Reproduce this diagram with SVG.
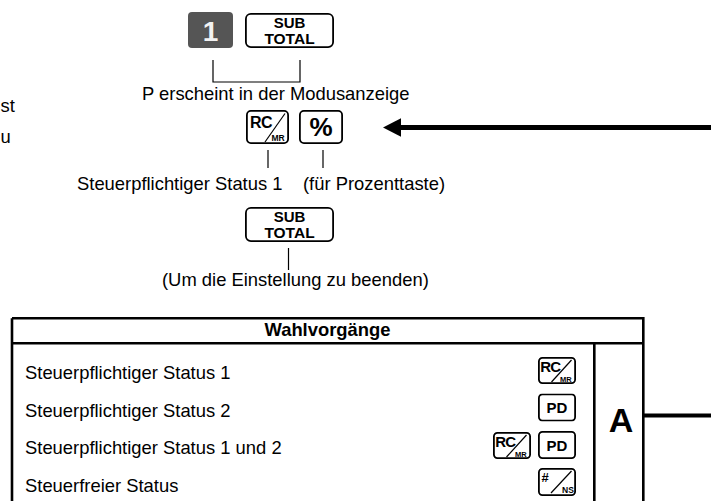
<svg xmlns="http://www.w3.org/2000/svg" width="711" height="501" viewBox="0 0 711 501">
<style>
.t{font-family:"Liberation Sans",Arial,sans-serif;font-size:18.4px;fill:#000}
.b{font-weight:bold}
.k{fill:#fff;stroke:#000;stroke-width:1.8}
.ln{stroke:#000;stroke-width:1.2;fill:none}
.tb{stroke:#000;stroke-width:2.6;fill:none}
.kt{font-family:"Liberation Sans",Arial,sans-serif;font-weight:bold;fill:#000}
</style>
<defs>
<symbol id="subtotal" viewBox="0 0 89 35">
<rect class="k" x="0.9" y="0.9" width="87.2" height="33.2" rx="5"/>
<text class="kt" x="44.5" y="15" font-size="15" text-anchor="middle">SUB</text>
<text class="kt" x="44.5" y="30.5" font-size="15.5" text-anchor="middle">TOTAL</text>
</symbol>
<symbol id="rcL" viewBox="0 0 43 34">
<rect class="k" x="0.9" y="0.9" width="41.2" height="32.2" rx="4"/>
<text class="kt" x="4" y="17.7" font-size="16" letter-spacing="-0.6">RC</text>
<line class="ln" x1="19" y1="32" x2="39" y2="3.5" stroke-width="1.5"/>
<text class="kt" x="25.5" y="31.3" font-size="8.5">MR</text>
</symbol>
<symbol id="rcS" viewBox="0 0 38 27">
<rect class="k" x="0.9" y="0.9" width="36.2" height="25.2" rx="3.5"/>
<text class="kt" x="2.3" y="14.7" font-size="15" letter-spacing="-0.8">RC</text>
<line class="ln" x1="13.5" y1="25" x2="33.5" y2="3" stroke-width="1.4"/>
<text class="kt" x="22" y="24.8" font-size="7.5">MR</text>
</symbol>
<symbol id="pd" viewBox="0 0 38 28">
<rect class="k" x="0.9" y="0.9" width="36.2" height="26.2" rx="3.5"/>
<text class="kt" x="19" y="19.5" font-size="15" text-anchor="middle">PD</text>
</symbol>
</defs>

<g id="left-text">
<text class="t" x="0.5" y="112">st</text>
<text class="t" x="0.5" y="143">u</text>
</g>

<g id="key-1">
<rect x="188" y="12" width="45" height="36" rx="4" fill="#555"/>
<text x="210.5" y="40.5" font-family="Liberation Sans,Arial,sans-serif" font-weight="bold" font-size="28" fill="#f2f2f2" text-anchor="middle">1</text>
</g>
<g id="key-subtotal-1"><use href="#subtotal" x="245" y="13" width="89" height="35"/></g>

<g id="label-p">
<text class="t" x="142" y="100">P erscheint in der Modusanzeige</text>
</g>

<g id="key-rcmr"><use href="#rcL" x="246" y="110" width="43" height="34"/></g>
<g id="key-percent">
<rect class="k" x="299.9" y="110.9" width="42.2" height="32.2" rx="4"/>
<text class="kt" x="321" y="136" font-size="26" text-anchor="middle">%</text>
</g>

<g id="label-status1">
<text class="t" x="77" y="190">Steuerpflichtiger Status 1</text>
</g>
<g id="label-prozent">
<text class="t" x="303" y="190">(für Prozenttaste)</text>
</g>

<g id="key-subtotal-2"><use href="#subtotal" x="245" y="207" width="89" height="35"/></g>

<g id="label-beenden">
<text class="t" x="162" y="286">(Um die Einstellung zu beenden)</text>
</g>

<g id="table">
<path class="tb" d="M12 318.3H643.3V501M12 318.3V501M12 343.3H643.3M594.3 343.3V501"/>
<text class="t b" x="327.5" y="336" text-anchor="middle">Wahlvorgänge</text>
<text class="t" x="25" y="379">Steuerpflichtiger Status 1</text>
<text class="t" x="25" y="416.5">Steuerpflichtiger Status 2</text>
<text class="t" x="25" y="453.5">Steuerpflichtiger Status 1 und 2</text>
<text class="t" x="25" y="491.5">Steuerfreier Status</text>
<use href="#rcS" x="538" y="357" width="38" height="27"/>
<use href="#pd" x="538" y="393.5" width="38" height="28"/>
<use href="#rcS" x="493" y="432" width="38" height="27"/>
<use href="#pd" x="538" y="431" width="38" height="28"/>
<g id="key-ns">
<rect class="k" x="538.9" y="468.9" width="36.2" height="26.2" rx="3.5"/>
<text class="kt" x="541.5" y="481.5" font-size="13">#</text>
<line class="ln" x1="551" y1="493" x2="571.5" y2="471" stroke-width="1.4"/>
<text class="kt" x="562" y="493.3" font-size="8.5">NS</text>
</g>
<text class="t b" x="621" y="432" text-anchor="middle" style="font-size:34px">A</text>
</g>

<g id="connectors">
<path class="ln" d="M213 60V82H300V60"/>
<line class="ln" x1="268" y1="150" x2="268" y2="168"/>
<line class="ln" x1="323" y1="150" x2="323" y2="168"/>
<line class="ln" x1="288.5" y1="248" x2="288.5" y2="270"/>
<line x1="398" y1="127.5" x2="711" y2="127.5" stroke="#000" stroke-width="5"/>
<polygon points="383,127.5 401,118.3 401,136.7" fill="#000"/>
<line x1="643" y1="415.5" x2="711" y2="415.5" stroke="#000" stroke-width="4"/>
</g>
</svg>
